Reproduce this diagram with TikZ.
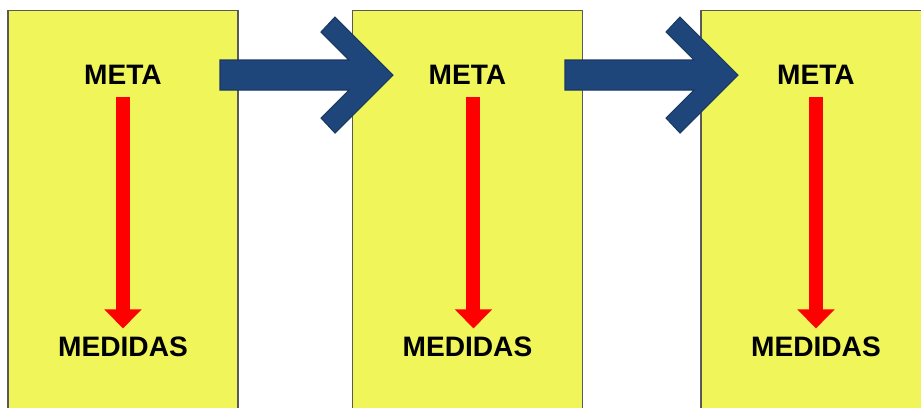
\documentclass[tikz,border=0pt]{standalone}
\usepackage{fontspec}
\setmainfont{Liberation Sans}
\usetikzlibrary{arrows.meta, positioning}
\definecolor{panelyellow}{RGB}{240,245,90}
\definecolor{arrowblue}{RGB}{31,70,122}
\tikzstyle{panel} = [rectangle, minimum width=4.6cm, minimum height=8.2cm, draw=black!65, line width=0.6pt, fill=panelyellow]
\tikzstyle{boxtext} = [font=\fontsize{16}{19}\selectfont\bfseries, inner sep=0pt]
\tikzstyle{goalarrow} = [red, line width=0.28cm, shorten <=0.24cm, shorten >=0.16cm, -{Triangle[width=0.72cm,length=0.38cm]}]
\tikzstyle{bluearrow} = [fill=arrowblue, draw=arrowblue!80!black, line width=0.6pt]

\begin{document}
\begin{tikzpicture}[x=0.02cm, y=-0.02cm]
    \clip (0,0) rectangle (921,407);

    % Yellow panels
    \node (panel1) [panel] at (123,215) {};
    \node (panel2) [panel, right=2.27cm of panel1] {};
    \node (panel3) [panel, right=2.35cm of panel2] {};

    % Big blue arrows between panels
    \filldraw[bluearrow] (220,60) -- (349,60) -- (321,32) -- (335,17) -- (393,75) -- (335,133) -- (321,118) -- (349,90) -- (220,90) -- cycle;
    \filldraw[bluearrow] (565,60) -- (694,60) -- (666,32) -- (680,17) -- (738,75) -- (680,133) -- (666,118) -- (694,90) -- (565,90) -- cycle;

    % Texts
    \node (meta1) [boxtext, below=1.1cm of panel1.north] {META};
    \node (meta2) [boxtext, below=1.1cm of panel2.north] {META};
    \node (meta3) [boxtext, below=1.1cm of panel3.north] {META};
    \node (medidas1) [boxtext, below=6.54cm of panel1.north] {MEDIDAS};
    \node (medidas2) [boxtext, below=6.54cm of panel2.north] {MEDIDAS};
    \node (medidas3) [boxtext, below=6.54cm of panel3.north] {MEDIDAS};

    % Red arrows
    \draw[goalarrow] (meta1.south) -- (medidas1.north);
    \draw[goalarrow] ([xshift=0.12cm]meta2.south) -- ([xshift=0.12cm]medidas2.north);
    \draw[goalarrow] (meta3.south) -- (medidas3.north);
\end{tikzpicture}
\end{document}
